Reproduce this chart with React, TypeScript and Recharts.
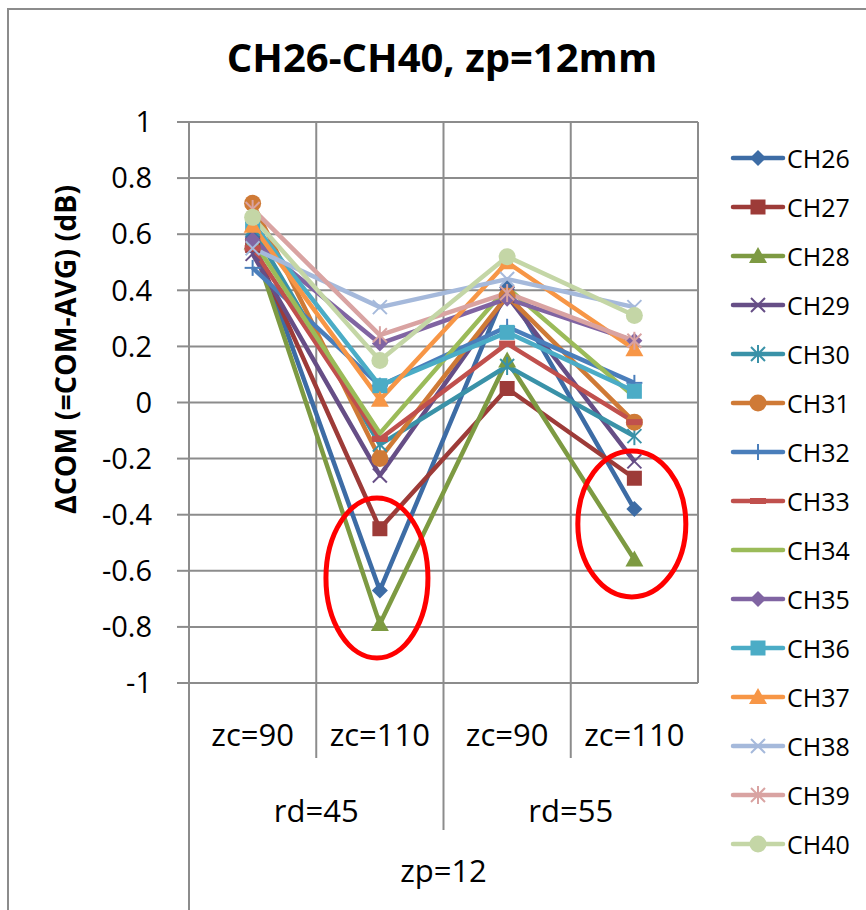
import React from 'react';
import {
  LineChart,
  Line,
  XAxis,
  YAxis,
  CartesianGrid,
  ReferenceLine,
  ReferenceDot,
  Legend,
} from 'recharts';

// category axis, three levels
const categories = ['zc=90', 'zc=110', 'zc=90', 'zc=110'];
const rdLabels = ['rd=45', 'rd=55'];
const zpLabel = 'zp=12';

// ΔCOM per channel
const ch26 = [0.59, -0.67, 0.41, -0.38];
const ch27 = [0.56, -0.45, 0.05, -0.27];
const ch28 = [0.57, -0.79, 0.15, -0.56];
const ch29 = [0.53, -0.26, 0.38, -0.21];
const ch30 = [0.62, -0.15, 0.13, -0.12];
const ch31 = [0.71, -0.2, 0.38, -0.07];
const ch32 = [0.48, 0.06, 0.27, 0.07];
const ch33 = [0.55, -0.13, 0.21, -0.07];
const ch34 = [0.58, -0.11, 0.41, 0.02];
const ch35 = [0.58, 0.21, 0.37, 0.22];
const ch36 = [0.64, 0.06, 0.25, 0.04];
const ch37 = [0.63, 0.01, 0.5, 0.19];
const ch38 = [0.55, 0.34, 0.44, 0.34];
const ch39 = [0.69, 0.24, 0.39, 0.22];
const ch40 = [0.66, 0.15, 0.52, 0.31];

const yTicks = [-1, -0.8, -0.6, -0.4, -0.2, 0, 0.2, 0.4, 0.6, 0.8, 1];

// red circled regions: [x, y]
const highlights = [
  [0.977, -0.626],
  [2.98, -0.433],
];
const highlightRadii = [
  [51, 80],
  [54, 73],
];

type MarkerShape = 'diamond' | 'square' | 'triangle' | 'x' | 'star' | 'circle' | 'plus' | 'dash' | 'none';

interface SeriesDef {
  name: string;
  values: number[];
  color: string;
  marker: MarkerShape;
}

const series: SeriesDef[] = [
  { name: 'CH26', values: ch26, color: '#3D6CA5', marker: 'diamond' },
  { name: 'CH27', values: ch27, color: '#9D3B38', marker: 'square' },
  { name: 'CH28', values: ch28, color: '#7D9A42', marker: 'triangle' },
  { name: 'CH29', values: ch29, color: '#664E86', marker: 'x' },
  { name: 'CH30', values: ch30, color: '#3A92A8', marker: 'star' },
  { name: 'CH31', values: ch31, color: '#CF7A36', marker: 'circle' },
  { name: 'CH32', values: ch32, color: '#4A7EBB', marker: 'plus' },
  { name: 'CH33', values: ch33, color: '#C0504D', marker: 'dash' },
  { name: 'CH34', values: ch34, color: '#9BBB59', marker: 'none' },
  { name: 'CH35', values: ch35, color: '#8064A2', marker: 'diamond' },
  { name: 'CH36', values: ch36, color: '#4BACC6', marker: 'square' },
  { name: 'CH37', values: ch37, color: '#F79646', marker: 'triangle' },
  { name: 'CH38', values: ch38, color: '#A5B9DB', marker: 'x' },
  { name: 'CH39', values: ch39, color: '#D9A3A2', marker: 'star' },
  { name: 'CH40', values: ch40, color: '#C4D6A6', marker: 'circle' },
];

const data = categories.map((c, i) => {
  const row: Record<string, number | string> = { x: i, cat: c };
  series.forEach((s) => {
    row[s.name] = s.values[i];
  });
  return row;
});

const FONT = '"Open Sans", "Noto Sans", sans-serif';
const GRID = '#8c8c8c';

function Marker({ shape, cx, cy, color }: { shape: MarkerShape; cx: number; cy: number; color: string }) {
  if (cx == null || cy == null) return null;
  switch (shape) {
    case 'diamond':
      return <polygon points={`${cx},${cy - 8} ${cx + 8},${cy} ${cx},${cy + 8} ${cx - 8},${cy}`} fill={color} />;
    case 'square':
      return <rect x={cx - 7.5} y={cy - 7.5} width={15} height={15} fill={color} />;
    case 'triangle':
      return <polygon points={`${cx},${cy - 9} ${cx + 9},${cy + 7} ${cx - 9},${cy + 7}`} fill={color} />;
    case 'x':
      return (
        <g stroke={color} strokeWidth={2}>
          <line x1={cx - 7} y1={cy - 7} x2={cx + 7} y2={cy + 7} />
          <line x1={cx - 7} y1={cy + 7} x2={cx + 7} y2={cy - 7} />
        </g>
      );
    case 'star':
      return (
        <g stroke={color} strokeWidth={2}>
          <line x1={cx - 7} y1={cy - 7} x2={cx + 7} y2={cy + 7} />
          <line x1={cx - 7} y1={cy + 7} x2={cx + 7} y2={cy - 7} />
          <line x1={cx} y1={cy - 9} x2={cx} y2={cy + 9} />
        </g>
      );
    case 'circle':
      return <circle cx={cx} cy={cy} r={8.5} fill={color} />;
    case 'plus':
      return (
        <g stroke={color} strokeWidth={2}>
          <line x1={cx - 8} y1={cy} x2={cx + 8} y2={cy} />
          <line x1={cx} y1={cy - 8} x2={cx} y2={cy + 8} />
        </g>
      );
    case 'dash':
      return <rect x={cx - 8} y={cy - 3} width={16} height={6} fill={color} />;
    default:
      return null;
  }
}

function XTick(props: any) {
  const { x, y, payload } = props;
  const v = payload.value as number;
  const txt = { fontFamily: FONT, fontSize: 31, fill: '#000', textAnchor: 'middle' as const };
  if (Number.isInteger(v)) {
    return (
      <text x={x} y={y + 63} {...txt}>
        {categories[v]}
      </text>
    );
  }
  if (v === -0.5) {
    return <line x1={x} y1={y} x2={x} y2={y + 230} stroke={GRID} strokeWidth={2} />;
  }
  if (v === 0.5 || v === 2.5) {
    return (
      <g>
        <line x1={x} y1={y} x2={x} y2={y + 75} stroke={GRID} strokeWidth={2} />
        <text x={x} y={y + 139} {...txt}>
          {rdLabels[v === 0.5 ? 0 : 1]}
        </text>
      </g>
    );
  }
  if (v === 1.5) {
    return (
      <g>
        <line x1={x} y1={y} x2={x} y2={y + 147} stroke={GRID} strokeWidth={2} />
        <text x={x} y={y + 199} {...txt}>
          {zpLabel}
        </text>
      </g>
    );
  }
  return null;
}

function LegendBox() {
  return (
    <svg width={140} height={740}>
      {series.map((s, i) => {
        const cy = 28 + i * 49;
        return (
          <g key={s.name}>
            <line x1={8} y1={cy} x2={58} y2={cy} stroke={s.color} strokeWidth={4.5} strokeLinecap="round" />
            <Marker shape={s.marker} cx={33} cy={cy} color={s.color} />
            <text x={62} y={cy} dominantBaseline="central" fontFamily={FONT} fontSize={25} fill="#000">
              {s.name}
            </text>
          </g>
        );
      })}
    </svg>
  );
}

export default function App() {
  return (
    <div
      style={{
        position: 'absolute',
        left: 0,
        top: 0,
        width: 866,
        height: 910,
        background: '#fff',
        overflow: 'hidden',
        fontFamily: FONT,
      }}
    >
      <div
        style={{
          position: 'absolute',
          left: 7,
          top: 8,
          width: 900,
          height: 950,
          border: `2px solid ${GRID}`,
        }}
      />
      <div
        style={{
          position: 'absolute',
          left: 0,
          top: 37,
          width: 884,
          textAlign: 'center',
          fontSize: 40,
          fontWeight: 700,
          lineHeight: 1,
        }}
      >
        CH26-CH40, zp=12mm
      </div>
      <div style={{ position: 'absolute', left: 0, top: 0 }}>
        <LineChart width={866} height={910} data={data} margin={{ top: 122, right: 168, left: 0, bottom: 0 }}>
          <CartesianGrid vertical={false} stroke={GRID} strokeWidth={2} />
          <XAxis
            dataKey="x"
            type="number"
            domain={[-0.5, 3.5]}
            ticks={[-0.5, 0, 0.5, 1, 1.5, 2, 2.5, 3, 3.5]}
            interval={0}
            tick={<XTick />}
            tickLine={false}
            tickSize={0}
            tickMargin={0}
            axisLine={{ stroke: GRID, strokeWidth: 2 }}
            height={227}
          />
          <YAxis
            type="number"
            domain={[-1, 1]}
            ticks={yTicks}
            interval={0}
            width={189}
            tickSize={12}
            tickMargin={25}
            tickLine={{ stroke: GRID, strokeWidth: 2 }}
            axisLine={{ stroke: GRID, strokeWidth: 2 }}
            tick={{ fontFamily: FONT, fontSize: 29, fill: '#000' }}
            tickFormatter={(v: number) => String(Number(v.toFixed(1)))}
            label={(p: any) => {
              const vb = p.viewBox;
              const cx = vb.x + 65;
              const cy = vb.y + vb.height / 2 - 53;
              return (
                <text
                  x={cx}
                  y={cy}
                  transform={`rotate(-90, ${cx}, ${cy})`}
                  textAnchor="middle"
                  dominantBaseline="central"
                  fontFamily={FONT}
                  fontSize={28.5}
                  fontWeight={700}
                  fill="#000"
                >
                  ΔCOM (=COM-AVG) (dB)
                </text>
              );
            }}
          />
          {[0.5, 1.5, 2.5, 3.5].map((v) => (
            <ReferenceLine key={v} x={v} stroke={GRID} strokeWidth={2} />
          ))}
          {series.map((s) => (
            <Line
              key={s.name}
              type="linear"
              dataKey={s.name}
              stroke={s.color}
              strokeWidth={4.5}
              strokeLinejoin="round"
              isAnimationActive={false}
              activeDot={false}
              dot={
                s.marker === 'none'
                  ? false
                  : (p: any) => (
                      <Marker key={`${s.name}-${p.index}`} shape={s.marker} cx={p.cx} cy={p.cy} color={s.color} />
                    )
              }
            />
          ))}
          {highlights.map(([hx, hy], i) => (
            <ReferenceDot
              key={i}
              x={hx}
              y={hy}
              r={1}
              shape={(p: any) => (
                <ellipse
                  cx={p.cx}
                  cy={p.cy}
                  rx={highlightRadii[i][0]}
                  ry={highlightRadii[i][1]}
                  fill="none"
                  stroke="#FF0000"
                  strokeWidth={5}
                />
              )}
            />
          ))}
          <Legend
            layout="vertical"
            align="center"
            verticalAlign="middle"
            wrapperStyle={{ left: 725, top: 130, width: 140 }}
            content={() => <LegendBox />}
          />
        </LineChart>
      </div>
    </div>
  );
}
